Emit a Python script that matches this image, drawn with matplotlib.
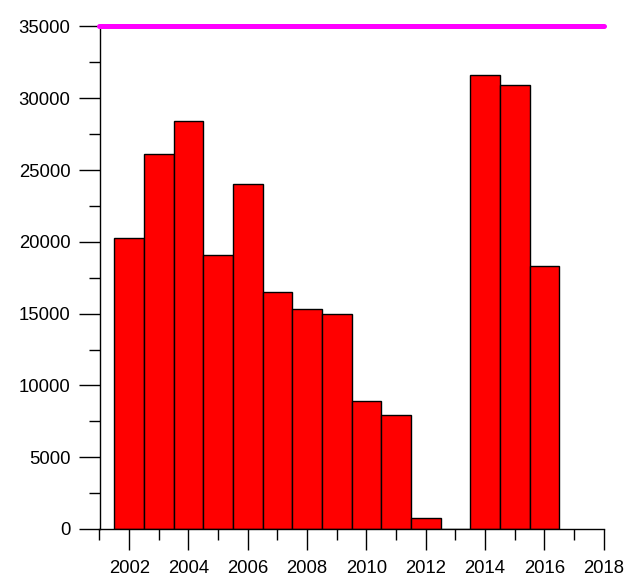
import numpy as np
import matplotlib
matplotlib.use('Agg')
import matplotlib.pyplot as plt
from matplotlib.ticker import MultipleLocator

# --- Data ---
years = [2002, 2003, 2004, 2005, 2006, 2007, 2008, 2009, 2010, 2011, 2012, 2013, 2014, 2015, 2016]
counts = [20300, 26150, 28400, 19050, 24000, 16500, 15350, 14950, 8880, 7920, 740, 0, 31600, 30900, 18300]
limit_value = 35000

plt.rcParams['font.family'] = ['Liberation Sans', 'DejaVu Sans']

fig = plt.figure(figsize=(6.25, 5.77), dpi=100)
ax = fig.add_axes([0.1592, 0.0832, 0.8067, 0.8709])

ax.bar(years, counts, width=1.0, color='#ff0000', edgecolor='black', linewidth=1.0)

# magenta reference line across the top
ax.plot([2001, 2018], [limit_value, limit_value], color='#ff00ff', linewidth=3.6,
        solid_capstyle='round', clip_on=False, zorder=5)

ax.set_xlim(2001, 2018)
ax.set_ylim(0, 35000)

for side in ['top', 'right']:
    ax.spines[side].set_visible(False)
ax.spines['left'].set_linewidth(1.0)
ax.spines['bottom'].set_linewidth(1.0)

ax.xaxis.set_major_locator(MultipleLocator(2))
ax.xaxis.set_minor_locator(MultipleLocator(1))
ax.yaxis.set_major_locator(MultipleLocator(5000))
ax.yaxis.set_minor_locator(MultipleLocator(2500))

ax.tick_params(axis='x', which='major', direction='out', length=15, width=1, pad=7.5, labelsize=13.3)
ax.tick_params(axis='x', which='minor', direction='out', length=8, width=1)
ax.tick_params(axis='y', which='major', direction='out', length=15, width=1, pad=6, labelsize=13.3)
ax.tick_params(axis='y', which='minor', direction='out', length=8, width=1)

fig.savefig('out.png', dpi=100)
